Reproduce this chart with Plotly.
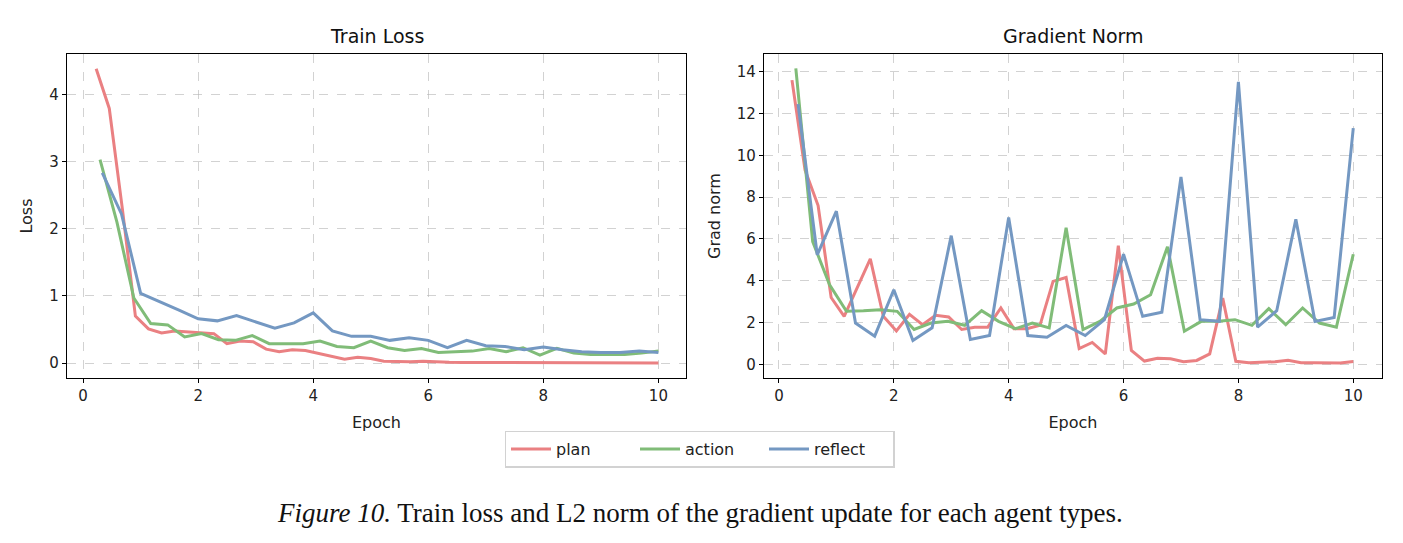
import plotly.graph_objects as go

# ---------------- data ----------------
plan_epoch = [0.227, 0.455, 0.682, 0.909, 1.136, 1.364, 1.591, 1.818, 2.045, 2.273,
              2.5, 2.727, 2.955, 3.182, 3.409, 3.636, 3.864, 4.091, 4.318, 4.545,
              4.773, 5.0, 5.227, 5.455, 5.682, 5.909, 6.136, 6.364, 6.591, 6.818,
              7.045, 7.273, 7.5, 7.727, 7.955, 8.182, 8.409, 8.636, 8.864, 9.091,
              9.318, 9.545, 9.773, 10.0]
action_epoch = [0.294, 0.588, 0.882, 1.176, 1.471, 1.765, 2.059, 2.353, 2.647, 2.941,
                3.235, 3.529, 3.824, 4.118, 4.412, 4.706, 5.0, 5.294, 5.588, 5.882,
                6.176, 6.471, 6.765, 7.059, 7.353, 7.647, 7.941, 8.235, 8.529, 8.824,
                9.118, 9.412, 9.706, 10.0]
reflect_epoch = [0.333, 0.667, 1.0, 1.333, 1.667, 2.0, 2.333, 2.667, 3.0, 3.333,
                 3.667, 4.0, 4.333, 4.667, 5.0, 5.333, 5.667, 6.0, 6.333, 6.667,
                 7.0, 7.333, 7.667, 8.0, 8.333, 8.667, 9.0, 9.333, 9.667, 10.0]

plan_loss = [4.38, 3.79, 2.3, 0.70, 0.51, 0.45, 0.48, 0.47, 0.45, 0.44,
             0.29, 0.33, 0.32, 0.21, 0.17, 0.20, 0.19, 0.15, 0.10, 0.06,
             0.09, 0.07, 0.03, 0.025, 0.02, 0.03, 0.02, 0.015, 0.012, 0.012,
             0.01, 0.01, 0.008, 0.008, 0.007, 0.007, 0.006, 0.006, 0.005, 0.005,
             0.005, 0.005, 0.004, 0.004]
action_loss = [3.03, 2.1, 0.97, 0.59, 0.57, 0.39, 0.44, 0.35, 0.34, 0.41,
               0.29, 0.29, 0.29, 0.33, 0.25, 0.23, 0.33, 0.23, 0.19, 0.22,
               0.16, 0.17, 0.18, 0.22, 0.17, 0.23, 0.12, 0.22, 0.15, 0.13,
               0.13, 0.13, 0.15, 0.18]
reflect_loss = [2.83, 2.22, 1.04, 0.92, 0.79, 0.66, 0.63, 0.71, 0.62, 0.52,
                0.60, 0.75, 0.48, 0.40, 0.40, 0.34, 0.38, 0.34, 0.23, 0.34,
                0.26, 0.25, 0.20, 0.24, 0.20, 0.17, 0.16, 0.16, 0.18, 0.16]

plan_grad = [13.6, 9.3, 7.6, 3.2, 2.3, 3.7, 5.05, 2.3, 1.6, 2.4,
             1.9, 2.35, 2.27, 1.67, 1.78, 1.78, 2.7, 1.71, 1.71, 1.87,
             3.97, 4.16, 0.76, 1.05, 0.5, 5.68, 0.67, 0.16, 0.29, 0.27,
             0.13, 0.19, 0.5, 3.17, 0.15, 0.08, 0.1, 0.13, 0.2, 0.08,
             0.08, 0.07, 0.07, 0.14]
action_grad = [14.16, 5.87, 3.81, 2.54, 2.57, 2.62, 2.54, 1.67, 1.98, 2.06,
               1.87, 2.57, 2.06, 1.71, 1.98, 1.75, 6.54, 1.67, 2.06, 2.7,
               2.89, 3.33, 5.63, 1.59, 2.06, 2.06, 2.14, 1.87, 2.67, 1.9,
               2.7, 1.98, 1.78, 5.27]
reflect_grad = [12.46, 5.24, 7.33, 1.98, 1.35, 3.57, 1.14, 1.75, 6.16, 1.19,
                1.38, 7.03, 1.38, 1.3, 1.86, 1.38, 2.14, 5.27, 2.3, 2.5,
                8.97, 2.14, 2.06, 13.52, 1.78, 2.57, 6.94, 2.06, 2.25, 11.3]

series_names = ["plan", "action", "reflect"]
series_colors = ["rgb(234,128,130)", "rgb(128,188,120)", "rgb(116,152,194)"]

x_ticks = [0, 2, 4, 6, 8, 10]
loss_ticks = [0, 1, 2, 3, 4]
grad_ticks = [0, 2, 4, 6, 8, 10, 12, 14]

# ---------------- figure ----------------
W, H = 1403, 543
FONT = "DejaVu Sans"
fig = go.Figure()

epochs = [plan_epoch, action_epoch, reflect_epoch]
losses = [plan_loss, action_loss, reflect_loss]
grads = [plan_grad, action_grad, reflect_grad]

for name, col, ep, lo in zip(series_names, series_colors, epochs, losses):
    fig.add_trace(go.Scatter(x=ep, y=lo, mode="lines", name=name,
                             line=dict(color=col, width=3),
                             xaxis="x", yaxis="y", showlegend=True))
for name, col, ep, gr in zip(series_names, series_colors, epochs, grads):
    fig.add_trace(go.Scatter(x=ep, y=gr, mode="lines", name=name,
                             line=dict(color=col, width=3),
                             xaxis="x2", yaxis="y2", showlegend=False))

ydom = [1 - 378 / H, 1 - 54 / H]
axis_common = dict(showline=True, linecolor="black", linewidth=1.2, mirror=True,
                   ticks="outside", ticklen=4, tickwidth=1, tickcolor="black",
                   showgrid=True, gridcolor="rgba(180,180,180,0.6)", gridwidth=1,
                   griddash="dash", zeroline=False,
                   tickfont=dict(family=FONT, size=15, color="#222"))

fig.update_layout(
    width=W, height=H,
    margin=dict(l=0, r=0, t=0, b=0),
    paper_bgcolor="white", plot_bgcolor="white",
    font=dict(family=FONT, color="#222"),
    xaxis=dict(domain=[67 / W, 686 / W], range=[-0.28, 10.48], tickvals=x_ticks,
               anchor="y",
               title=dict(text="Epoch", font=dict(family=FONT, size=16), standoff=12),
               **axis_common),
    yaxis=dict(domain=ydom, range=[-0.22, 4.6], tickvals=loss_ticks, anchor="x",
               title=dict(text="Loss", font=dict(family=FONT, size=16), standoff=12),
               **axis_common),
    xaxis2=dict(domain=[764 / W, 1382 / W], range=[-0.26, 10.5], tickvals=x_ticks,
                anchor="y2",
                title=dict(text="Epoch", font=dict(family=FONT, size=16), standoff=12),
                **axis_common),
    yaxis2=dict(domain=ydom, range=[-0.65, 14.85], tickvals=grad_ticks, anchor="x2",
                title=dict(text="Grad norm", font=dict(family=FONT, size=16), standoff=12),
                **axis_common),
    legend=dict(orientation="h", x=699.5 / W, xanchor="center",
                y=1 - 449 / H, yanchor="middle",
                bordercolor="rgb(210,210,210)", borderwidth=1.5,
                bgcolor="white", font=dict(family=FONT, size=16, color="#222"),
                itemwidth=40, entrywidth=74, entrywidthmode="pixels",
                tracegroupgap=0),
    showlegend=True,
)

fig.add_annotation(text="Train Loss", x=(67 + 686) / 2 / W, y=1 - 36 / H,
                   xref="paper", yref="paper", xanchor="center", yanchor="middle",
                   showarrow=False, font=dict(family=FONT, size=19, color="#111"))
fig.add_annotation(text="Gradient Norm", x=(764 + 1382) / 2 / W, y=1 - 36 / H,
                   xref="paper", yref="paper", xanchor="center", yanchor="middle",
                   showarrow=False, font=dict(family=FONT, size=19, color="#111"))
fig.add_annotation(text="<i>Figure 10.</i> Train loss and L2 norm of the gradient update for each agent types.",
                   x=700 / W, y=1 - 513 / H, xref="paper", yref="paper",
                   xanchor="center", yanchor="middle", showarrow=False,
                   font=dict(family="Liberation Serif", size=27, color="#111"))

fig.write_html("out.html")
